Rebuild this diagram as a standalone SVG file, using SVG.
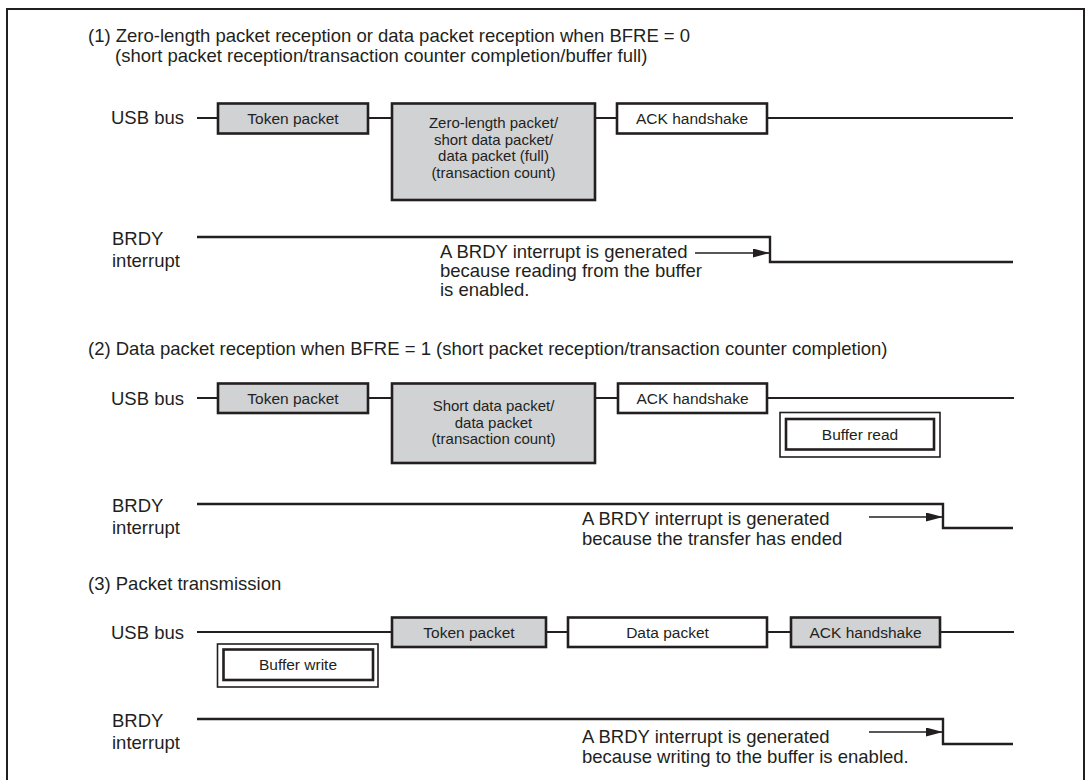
<svg xmlns="http://www.w3.org/2000/svg" width="1091" height="780" viewBox="0 0 1091 780">
<defs>
<style>
.t{font-family:"Liberation Sans",Arial,Helvetica,sans-serif;font-size:18.5px;fill:#231f20}
.b{font-family:"Liberation Sans",Arial,Helvetica,sans-serif;font-size:15.5px;fill:#231f20;text-anchor:middle}
.bs{font-family:"Liberation Sans",Arial,Helvetica,sans-serif;font-size:15px;fill:#231f20;text-anchor:middle}
.g{fill:#d1d2d4;stroke:#231f20;stroke-width:2.6}
.w{fill:#ffffff;stroke:#231f20;stroke-width:2.6}
.o{fill:#ffffff;stroke:#231f20;stroke-width:1.6}
.i{fill:none;stroke:#231f20;stroke-width:2.6}
.ln{fill:none;stroke:#231f20;stroke-width:2.2}
.sig{fill:none;stroke:#231f20;stroke-width:2.4}
.ar{fill:none;stroke:#231f20;stroke-width:1.3}
</style>
<marker id="ah" markerUnits="userSpaceOnUse" markerWidth="17" markerHeight="9" refX="17" refY="4.5" orient="auto">
<path d="M0,0 L17,4.5 L0,9 z" fill="#231f20"/>
</marker>
</defs>
<rect x="7" y="9" width="1077" height="775" fill="#ffffff" stroke="#231f20" stroke-width="2"/>

<g id="labels">
<text class="t" x="88" y="42">(1) Zero-length packet reception or data packet reception when BFRE = 0</text>
<text class="t" x="115" y="62">(short packet reception/transaction counter completion/buffer full)</text>
<text class="t" x="111" y="124">USB bus</text>
<text class="t" x="112" y="245">BRDY</text>
<text class="t" x="112" y="267">interrupt</text>
<text class="t" x="440" y="258">A BRDY interrupt is generated</text>
<text class="t" x="440" y="277">because reading from the buffer</text>
<text class="t" x="440" y="296">is enabled.</text>

<text class="t" x="88" y="355">(2) Data packet reception when BFRE = 1 (short packet reception/transaction counter completion)</text>
<text class="t" x="111" y="405">USB bus</text>
<text class="t" x="112" y="512">BRDY</text>
<text class="t" x="112" y="534">interrupt</text>
<text class="t" x="582" y="525">A BRDY interrupt is generated</text>
<text class="t" x="582" y="545">because the transfer has ended</text>

<text class="t" x="88" y="590">(3) Packet transmission</text>
<text class="t" x="111" y="639">USB bus</text>
<text class="t" x="112" y="727">BRDY</text>
<text class="t" x="112" y="749">interrupt</text>
<text class="t" x="582" y="743">A BRDY interrupt is generated</text>
<text class="t" x="582" y="763">because writing to the buffer is enabled.</text>
</g>

<g id="connectors">
<path class="ln" d="M197,118 H218 M368,118 H392 M595,118 H617 M767,118 H1013"/>
<path class="sig" d="M197,237 H770 V262 H1013"/>
<line class="ar" x1="695" y1="253" x2="770" y2="253" marker-end="url(#ah)"/>

<path class="ln" d="M197,398 H218 M368,398 H392 M595,398 H618 M767,398 H1014"/>
<path class="sig" d="M197,504 H943 V528 H1013"/>
<line class="ar" x1="869" y1="517" x2="943" y2="517" marker-end="url(#ah)"/>

<path class="ln" d="M197,632 H392 M546,632 H568 M767,632 H791 M940,632 H1014"/>
<path class="sig" d="M197,719 H943 V744 H1013"/>
<line class="ar" x1="869" y1="732" x2="943" y2="732" marker-end="url(#ah)"/>
</g>

<g id="s1-token"><rect class="g" x="218" y="103.5" width="150" height="30"/><text class="b" x="293" y="124">Token packet</text></g>
<g id="s1-data"><rect class="g" x="392" y="103.5" width="203" height="96.5"/>
<text class="bs" x="493.5" y="128">Zero-length packet/</text>
<text class="bs" x="493.5" y="144.7">short data packet/</text>
<text class="bs" x="493.5" y="161.3">data packet (full)</text>
<text class="bs" x="493.5" y="178">(transaction count)</text></g>
<g id="s1-ack"><rect class="w" x="617" y="103.5" width="150" height="30"/><text class="b" x="692" y="124">ACK handshake</text></g>

<g id="s2-token"><rect class="g" x="218" y="383.5" width="150" height="29.5"/><text class="b" x="293" y="404">Token packet</text></g>
<g id="s2-data"><rect class="g" x="392" y="383.5" width="203" height="79.5"/>
<text class="bs" x="493.5" y="411">Short data packet/</text>
<text class="bs" x="493.5" y="427.5">data packet</text>
<text class="bs" x="493.5" y="444">(transaction count)</text></g>
<g id="s2-ack"><rect class="w" x="618" y="383.5" width="149" height="29.5"/><text class="b" x="692.5" y="404">ACK handshake</text></g>
<g id="s2-bufread"><rect class="o" x="780" y="412.5" width="160" height="44.5"/><rect class="i" x="786" y="419" width="148" height="30.5"/><text class="b" x="860" y="440">Buffer read</text></g>

<g id="s3-bufwrite"><rect class="o" x="217.5" y="644" width="160.5" height="43"/><rect class="i" x="223.5" y="649.5" width="149.5" height="30.5"/><text class="b" x="298" y="670">Buffer write</text></g>
<g id="s3-token"><rect class="g" x="392" y="617.5" width="154" height="29.5"/><text class="b" x="469" y="638">Token packet</text></g>
<g id="s3-data"><rect class="w" x="568" y="617.5" width="199" height="29.5"/><text class="b" x="667.5" y="638">Data packet</text></g>
<g id="s3-ack"><rect class="g" x="791" y="617.5" width="149" height="29.5"/><text class="b" x="865.5" y="638">ACK handshake</text></g>
</svg>
